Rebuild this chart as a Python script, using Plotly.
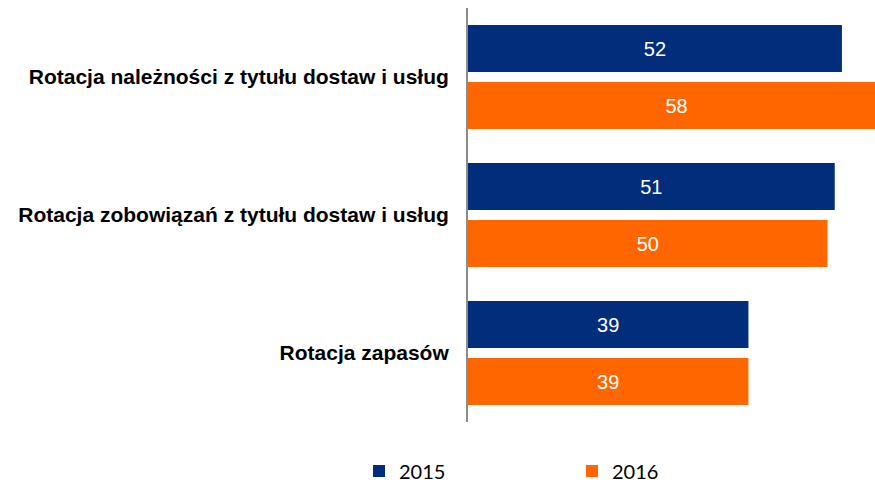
import plotly.graph_objects as go

categories = [
    "Rotacja należności z tytułu dostaw i usług",
    "Rotacja zobowiązań z tytułu dostaw i usług",
    "Rotacja zapasów",
]
series_names = ["2015", "2016"]
values_2015 = [52, 51, 39]
values_2016 = [58, 50, 39]
colors = ["#022D7B", "#FF6600"]
legend_ids = ["legend", "legend2"]

fig = go.Figure()
for name, vals, col, lg in zip(series_names, [values_2015, values_2016], colors, legend_ids):
    fig.add_trace(go.Bar(
        y=categories, x=vals, name=name, orientation="h", legend=lg,
        marker=dict(color=col, line=dict(width=0)),
        text=[str(v) for v in vals], textposition="inside",
        insidetextanchor="middle",
        textfont=dict(color="white", size=20, family="Liberation Sans, Arial"),
        cliponaxis=True,
    ))

legend_font = dict(family="Lato, Carlito, sans-serif", size=20, color="black")
fig.update_layout(
    width=875, height=483,
    margin=dict(l=468, r=0, t=8, b=61, autoexpand=False),
    plot_bgcolor="white", paper_bgcolor="white",
    barmode="group", bargap=0.174, bargroupgap=0.175,
    showlegend=True,
    legend=dict(orientation="h", xref="container", yref="container",
                x=359 / 875, xanchor="left", y=12 / 483, yanchor="middle",
                font=legend_font, bgcolor="rgba(0,0,0,0)"),
    legend2=dict(orientation="h", xref="container", yref="container",
                 x=572 / 875, xanchor="left", y=12 / 483, yanchor="middle",
                 font=legend_font, bgcolor="rgba(0,0,0,0)"),
    uniformtext=dict(minsize=8, mode="show"),
)
fig.update_xaxes(range=[0, 56.6], visible=False, showgrid=False, zeroline=False)
fig.update_yaxes(autorange="reversed", showline=True, linecolor="#8C8C8C", linewidth=2,
                 showgrid=False, ticks="", ticklabelstandoff=13, automargin=False,
                 tickfont=dict(family="Liberation Sans, Arial", size=21, color="black",
                               weight="bold"))

fig.write_html("out.html", config={"displayModeBar": False},
               post_script="document.body.style.margin='0';")
